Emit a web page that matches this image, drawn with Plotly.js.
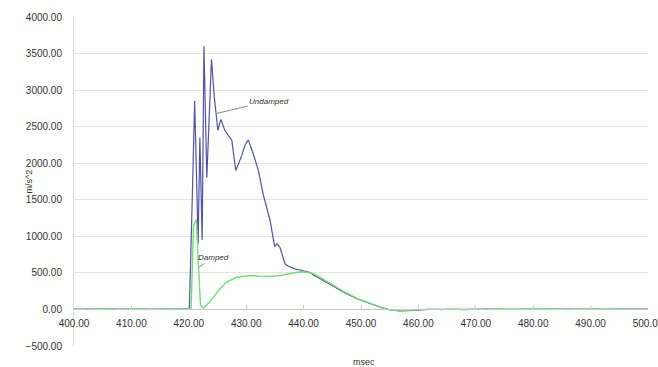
<!DOCTYPE html>
<html><head><meta charset="utf-8">
<script src="https://cdn.plot.ly/plotly-3.0.1.min.js"></script>
<style>html,body{margin:0;padding:0;background:#fff}#chart{width:658px;height:367px}</style>
</head><body><div id="chart"></div>
<script>
const undampedX = [400,401.5,403,404.5,406,407.5,409,410.5,412,413.5,415,416.5,418,419,420.1,420.6,421.02,421.32,421.62,421.93,422.33,422.64,423.14,423.54,423.95,424.45,425.06,425.57,426.27,426.88,427.49,428.19,429.2,429.81,430.37,431.22,432.13,432.94,434.15,434.96,435.37,435.87,436.78,437.38,438.5,439.41,441.13,441.73,443.45,445.47,447.49,449.51,451.54,453.56,455.07,456.79,458.1,460.3,462,465,468,471,474,477,480,483,486,489,492,495,498,500];
const undampedY = [5,8,3,6,4,7,2,5,6,3,4,6,3,4,10,1500,2850,1900,900,2350,950,3600,1800,2600,3420,2900,2450,2600,2450,2380,2315,1900,2100,2250,2320,2130,1900,1580,1220,860,900,850,620,590,555,540,505,470,395,300,215,140,78,25,-5,-20,-15,-5,0,3,-2,4,1,5,2,6,3,4,2,5,3,4];
const dampedX = [400,401,402,403,404,405,406,407,408,409,410,411,412,413,414,415,416,417,418,419,420.1,420.41,420.82,421.32,421.62,422.03,422.53,423.65,425.16,426.58,428.29,430.62,432.34,434.15,435.87,436.47,437.89,439.41,440.42,441.73,443.45,445.47,447.49,449.51,451.54,453.56,455.07,456.79,458.1,460.3,462,464,466,468,470,472,474,476,478,480,482,484,486,488,490,492,494,496,498,500];
const dampedY = [4,10,-3,6,12,2,8,-2,5,9,3,7,11,4,6,8,2,9,5,7,4,10,1150,1230,700,60,20,100,260,375,440,465,455,450,465,475,495,515,510,490,410,315,225,145,80,25,-5,-20,-12,0,4,-3,6,2,8,-1,10,3,7,12,2,9,-2,6,11,3,8,1,5,4];
const xTicks = [400,410,420,430,440,450,460,470,480,490,500];
const yTicks = [-500,0,500,1000,1500,2000,2500,3000,3500,4000];
const labelUndamped = "Undamped";
const labelDamped = "Damped";

const font = "Liberation Sans, Arial, sans-serif";
const data = [
  {x: undampedX, y: undampedY, type: 'scatter', mode: 'lines', name: labelUndamped,
   line: {color: '#5252a6', width: 1.2}},
  {x: dampedX, y: dampedY, type: 'scatter', mode: 'lines', name: labelDamped,
   line: {color: '#72e072', width: 1.4}}
];
const layout = {
  width: 658, height: 367,
  margin: {l: 74, r: 10, t: 17, b: 21},
  paper_bgcolor: '#fff', plot_bgcolor: '#fff',
  showlegend: false,
  font: {family: font, size: 10, color: '#333'},
  xaxis: {
    range: [400, 500], tickvals: xTicks, tickformat: '.2f',
    anchor: 'free', position: 500/4500,
    showgrid: false, zeroline: false,
    showline: true, linecolor: '#c8c8c8', linewidth: 1,
    ticks: 'inside', ticklen: 4, tickcolor: '#d0d0d0',
    ticklabelstandoff: 5, ticklabeloverflow: 'allow',
    tickfont: {family: font, size: 10, color: '#333'}
  },
  yaxis: {
    range: [-500, 4000], tickvals: yTicks, tickformat: '.2f',
    showgrid: true, gridcolor: '#e4e4e4', zeroline: false,
    showline: true, linecolor: '#dcdcdc', ticks: '', ticklen: 0,
    ticklabelstandoff: 9,
    tickfont: {family: font, size: 10, color: '#333'}
  },
  annotations: [
    {x: 424.8, y: 2680, ax: 434.0, ay: 2850, axref: 'x', ayref: 'y', xref: 'x', yref: 'y',
     text: '<i>' + labelUndamped + '</i>', showarrow: true, arrowhead: 0, arrowwidth: 1, arrowcolor: '#888',
     font: {family: font, size: 8, color: '#333'}},
    {x: 421.8, y: 580, ax: 424.3, ay: 710, axref: 'x', ayref: 'y', xref: 'x', yref: 'y',
     text: '<i>' + labelDamped + '</i>', showarrow: true, arrowhead: 0, arrowwidth: 1, arrowcolor: '#888',
     font: {family: font, size: 8, color: '#333'}},
    {x: 0.505, y: -0.049, xref: 'paper', yref: 'paper', text: 'msec', showarrow: false,
     xanchor: 'center', yanchor: 'middle', font: {family: font, size: 9, color: '#333'}},
    {x: -0.08, y: 0.5, xref: 'paper', yref: 'paper', text: 'm/s^2', textangle: -90, showarrow: false,
     xanchor: 'center', yanchor: 'middle', font: {family: font, size: 9, color: '#333'}}
  ]
};
Plotly.newPlot('chart', data, layout, {displayModeBar: false, staticPlot: true});
</script></body></html>
